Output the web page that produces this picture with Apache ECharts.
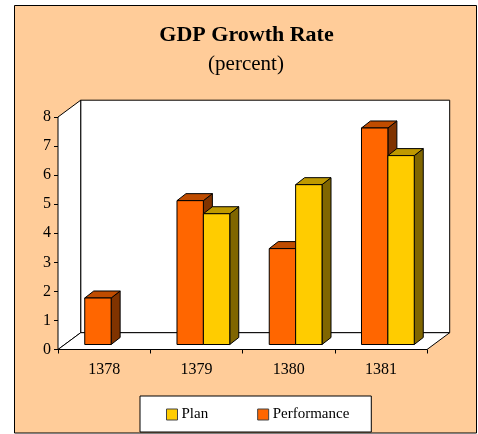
<!DOCTYPE html>
<html><head><meta charset="utf-8">
<style>html,body{margin:0;padding:0;background:#fff}#c{width:478px;height:434px}</style>
<script src="https://cdn.jsdelivr.net/npm/echarts@6/dist/echarts.min.js"></script>
</head><body><div id="c"></div>
<script>
const years = ['1378','1379','1380','1381'];
const performance = [1.6, 4.95, 3.3, 7.45];
const plan = [null, 4.5, 5.5, 6.5];
const yTicks = {min:0,max:8,interval:1};

const FONT = '"Liberation Serif","Times New Roman",serif';
const WALL_DX = 22.7, WALL_DY = 16.8;   // depth of the box
const OFF_DX = 7, OFF_DY = 5;           // bars stand inside the floor
const BAR_DX = 9, BAR_DY = 7;           // depth of a bar
const BAR_FRAC = 0.286;                 // bar width / band width

function bar(slot, colors){
  return function(params, api){
    const v = api.value(1);
    if (v == null || isNaN(v)) return;
    const i = api.value(0);
    const b = api.coord([i,0]), t = api.coord([i,v]);
    const w = api.size([1,0])[0]*BAR_FRAC;
    const x0 = b[0]+OFF_DX+slot*w, x1 = x0+w;
    const y0 = b[1]-OFF_DY, y1 = t[1]-OFF_DY;
    const st = f => ({fill:f, stroke:'#000', lineWidth:1, lineJoin:'round'});
    return {type:'group', children:[
      {type:'polygon', shape:{points:[[x1,y0],[x1+BAR_DX,y0-BAR_DY],[x1+BAR_DX,y1-BAR_DY],[x1,y1]]}, style:st(colors[2])},
      {type:'polygon', shape:{points:[[x0,y1],[x1,y1],[x1+BAR_DX,y1-BAR_DY],[x0+BAR_DX,y1-BAR_DY]]}, style:st(colors[1])},
      {type:'rect', shape:{x:x0,y:y1,width:w,height:y0-y1}, style:st(colors[0])}
    ]};
  };
}
function box(params, api){
  const c = params.coordSys;
  const L=c.x, R=c.x+c.width, T=c.y, B=c.y+c.height;
  const dx=WALL_DX, dy=WALL_DY;
  const s = {fill:'#fff', stroke:'#000', lineWidth:1};
  return {type:'group', children:[
    {type:'polygon', shape:{points:[[L+dx,T-dy],[R+dx,T-dy],[R+dx,B-dy],[L+dx,B-dy]]}, style:{fill:'#fff',stroke:'#000',lineWidth:1}},
    {type:'polygon', shape:{points:[[L,T],[L+dx,T-dy],[L+dx,B-dy],[L,B]]}, style:s},
    {type:'polygon', shape:{points:[[L,B],[L+dx,B-dy],[R+dx,B-dy],[R,B]]}, style:s}
  ]};
}
const chart = echarts.init(document.getElementById('c'), null, {renderer:'canvas'});
chart.setOption({
  animation:false,
  backgroundColor:'#fff',
  textStyle:{fontFamily:FONT},
  graphic:[{type:'rect', z:-10, silent:true, shape:{x:14.5,y:5.5,width:462,height:427.5},
    style:{fill:'#FFCC99',stroke:'#000',lineWidth:1}}],
  title:[
    {text:'GDP Growth Rate', left:241.5, top:19, textAlign:'center', textStyle:{fontFamily:FONT,fontWeight:'bold',fontSize:22,color:'#000'}},
    {text:'(percent)', left:241, top:49, textAlign:'center', textStyle:{fontFamily:FONT,fontWeight:'normal',fontSize:21,color:'#000'}}
  ],
  legend:{
    left:140, top:396, data:['Plan','Performance'], orient:'horizontal',
    backgroundColor:'#fff', borderColor:'#000', borderWidth:1, borderRadius:0,
    padding:[11,22,10,26], itemWidth:11, itemHeight:11, itemGap:49, icon:'rect',
    itemStyle:{borderColor:'#444',borderWidth:1},
    textStyle:{fontFamily:FONT,fontSize:15,color:'#000',padding:[0,0,0,-1]}
  },
  grid:{left:58,right:51,top:117,bottom:84.5},
  xAxis:{type:'category',data:years,
    axisLine:{lineStyle:{color:'#000',width:1}},
    axisTick:{show:true,length:4,lineStyle:{color:'#000'}},
    axisLabel:{color:'#000',fontFamily:FONT,fontSize:16,margin:12},
    splitLine:{show:false}},
  yAxis:{type:'value',min:yTicks.min,max:yTicks.max,interval:yTicks.interval,
    axisLine:{show:true,lineStyle:{color:'#000',width:1}},
    axisTick:{show:true,length:4,lineStyle:{color:'#000'}},
    axisLabel:{color:'#000',fontFamily:FONT,fontSize:16,margin:7},
    splitLine:{show:false}},
  series:[
    {type:'custom',name:'box',silent:true,z:1,renderItem:box,data:[[0,0]],clip:false},
    {type:'custom',name:'Performance',z:2,renderItem:bar(-1,['#FF6600','#BF4C00','#803300']),
      itemStyle:{color:'#FF6600',borderColor:'#000',borderWidth:1},
      data:years.map((y,i)=>[i,performance[i]]),encode:{x:0,y:1},clip:false},
    {type:'custom',name:'Plan',z:3,renderItem:bar(0,['#FFCC00','#BF9900','#806600']),
      itemStyle:{color:'#FFCC00',borderColor:'#000',borderWidth:1},
      data:years.map((y,i)=>[i,plan[i]]),encode:{x:0,y:1},clip:false}
  ]
});
</script></body></html>
